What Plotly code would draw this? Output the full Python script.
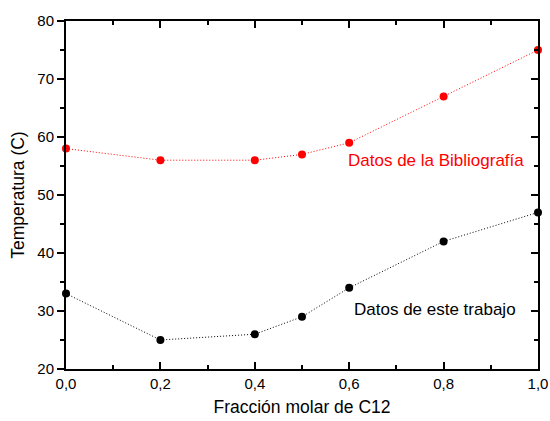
import plotly.graph_objects as go

x_vals = [0.0, 0.2, 0.4, 0.5, 0.6, 0.8, 1.0]
t_bib = [58, 56, 56, 57, 59, 67, 75]
t_trab = [33, 25, 26, 29, 34, 42, 47]
label_bib = "Datos de la Bibliografía"
label_trab = "Datos de este trabajo"

FONT = "Liberation Sans, Arial, sans-serif"

fig = go.Figure()
fig.add_trace(go.Scatter(x=x_vals, y=t_bib, mode="lines+markers",
                         line=dict(color="#ff0000", width=1, dash="1px,2px"),
                         marker=dict(color="#ff0000", size=8), cliponaxis=False,
                         showlegend=False))
fig.add_trace(go.Scatter(x=x_vals, y=t_trab, mode="lines+markers",
                         line=dict(color="#000000", width=1, dash="1px,2px"),
                         marker=dict(color="#000000", size=8), cliponaxis=False,
                         showlegend=False))
# invisible trace for mirrored axes
fig.add_trace(go.Scatter(x=[0, 1], y=[20, 80], xaxis="x2", yaxis="y2", mode="markers",
                         marker=dict(opacity=0), showlegend=False, hoverinfo="skip"))

common = dict(showgrid=False, zeroline=False, showline=True, linecolor="black",
              linewidth=2, tickcolor="black", tickwidth=2, ticklen=7, automargin=False)
minor_in = dict(ticks="inside", ticklen=4, tickcolor="black", tickwidth=2)
minor_out = dict(ticks="outside", ticklen=4, tickcolor="black", tickwidth=2)

fig.update_layout(
    width=550, height=421,
    margin=dict(l=66, r=12, t=21, b=52),
    paper_bgcolor="white", plot_bgcolor="white",
    separators=",.",
    font=dict(family=FONT, color="black", size=15),
    xaxis=dict(range=[0, 1], dtick=0.2, tick0=0, tickformat=".1f", ticks="inside",
               minor=dict(dtick=0.1, **minor_in),
               title=dict(text="Fracción molar de C12", font=dict(size=17.5), standoff=10),
               tickfont=dict(size=15), **common),
    yaxis=dict(range=[20, 80], dtick=10, ticks="outside",
               minor=dict(dtick=5, **minor_out),
               title=dict(text="Temperatura (C)", font=dict(size=17.5), standoff=8),
               tickfont=dict(size=15), **common),
    xaxis2=dict(range=[0, 1], dtick=0.2, tick0=0, overlaying="x", side="top", ticks="inside",
                showticklabels=False, minor=dict(dtick=0.1, **minor_in), **common),
    yaxis2=dict(range=[20, 80], dtick=10, overlaying="y", side="right", ticks="inside",
                showticklabels=False, minor=dict(dtick=5, **minor_in), **common),
    annotations=[
        dict(x=0.593, y=56.0, xref="x", yref="y", text=label_bib, showarrow=False,
             xanchor="left", yanchor="middle", font=dict(color="#ff0000", size=17, family=FONT)),
        dict(x=0.606, y=30.3, xref="x", yref="y", text=label_trab, showarrow=False,
             xanchor="left", yanchor="middle", font=dict(color="#000000", size=17, family=FONT)),
    ],
)

fig.write_html("out.html", config={"displayModeBar": False},
               post_script="document.body.style.margin='0';")
